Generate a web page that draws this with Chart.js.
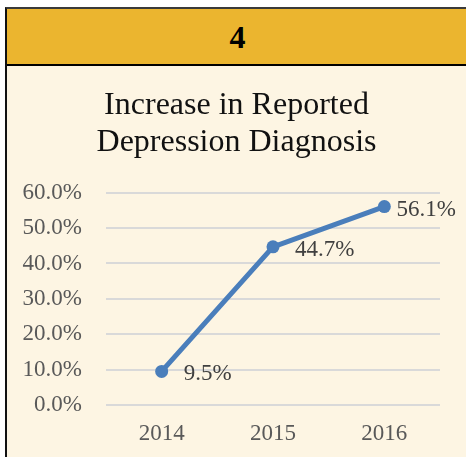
<!DOCTYPE html>
<html>
<head>
<meta charset="utf-8">
<script src="https://cdn.jsdelivr.net/npm/chart.js@4/dist/chart.umd.min.js"></script>
<style>
  html, body { margin: 0; padding: 0; background: #ffffff; width: 466px; height: 457px; overflow: hidden; }
  #frame { position: absolute; left: 5px; top: 7px; width: 461px; height: 450px;
           border-top: 2px solid #3a3a3a; border-left: 2px solid #111; box-sizing: border-box; background: #FDF5E3; }
  #header { height: 55px; background: #EBB52F; border-bottom: 2px solid #000; box-sizing: content-box;
            font: bold 32px "Liberation Serif", "Times New Roman", serif; color: #000;
            display: flex; align-items: center; justify-content: center; }
  #wrap { position: absolute; left: 0; top: 57px; width: 459px; height: 391px; }
</style>
</head>
<body>
<div id="frame">
  <div id="header"><span style="position:relative;left:1px;top:1px">4</span></div>
  <div id="wrap"><canvas id="c" width="459" height="391"></canvas></div>
</div>
<script>
const titleLines = ["Increase in Reported", "Depression Diagnosis"];
const categories = ["2014", "2015", "2016"];
const values = [0.095, 0.447, 0.561];
const yMin = 0, yMax = 0.6, yStep = 0.1;

const fmt = v => (v * 100).toFixed(1) + "%";
const serif = "'Liberation Serif', 'Times New Roman', serif";

const labelPlugin = {
  id: "valueLabels",
  afterDatasetsDraw(chart) {
    const ctx = chart.ctx;
    const meta = chart.getDatasetMeta(0);
    ctx.save();
    ctx.font = "23px " + serif;
    ctx.fillStyle = "#404040";
    ctx.textAlign = "left";
    ctx.textBaseline = "middle";
    meta.data.forEach((pt, i) => {
      const txt = fmt(values[i]);
      const w = ctx.measureText(txt).width;
      const x = Math.min(pt.x + 22, chart.width - 10 - w);
      ctx.fillText(txt, x, pt.y + 3);
    });
    ctx.restore();
  }
};

new Chart(document.getElementById("c"), {
  type: "line",
  data: {
    labels: categories,
    datasets: [{
      data: values,
      borderColor: "#4A7EBB",
      backgroundColor: "#4A7EBB",
      borderWidth: 5,
      pointRadius: 6.5,
      pointHoverRadius: 6.5,
      pointBackgroundColor: "#4A7EBB",
      pointBorderWidth: 0,
      tension: 0,
      fill: false
    }]
  },
  options: {
    responsive: false,
    animation: false,
    events: [],
    layout: { padding: { left: 0, right: 0, top: 0, bottom: 12 } },
    plugins: {
      legend: { display: false },
      tooltip: { enabled: false },
      title: {
        display: true,
        text: titleLines,
        color: "#111111",
        font: { family: serif, size: 32, weight: "normal", lineHeight: 1.16 },
        padding: { top: 20.6, bottom: 31.9 }
      }
    },
    scales: {
      x: {
        offset: true,
        grid: { display: false, drawTicks: false },
        border: { display: false },
        ticks: { color: "#595959", font: { family: serif, size: 23 }, padding: 15 },
        afterFit(s) { s.height = 40; }
      },
      y: {
        min: yMin, max: yMax,
        grid: { color: "#D9D9D9", lineWidth: 2, drawTicks: false },
        border: { display: false },
        ticks: { stepSize: yStep, color: "#595959", font: { family: serif, size: 23 }, padding: 24,
                 callback: v => fmt(v) },
        afterFit(s) { s.width = 99; }
      },
      yRight: {
        position: "right",
        min: yMin, max: yMax,
        grid: { display: false, drawTicks: false },
        border: { display: false },
        ticks: { display: false },
        afterFit(s) { s.width = 26; }
      }
    }
  },
  plugins: [labelPlugin]
});
</script>
</body>
</html>
